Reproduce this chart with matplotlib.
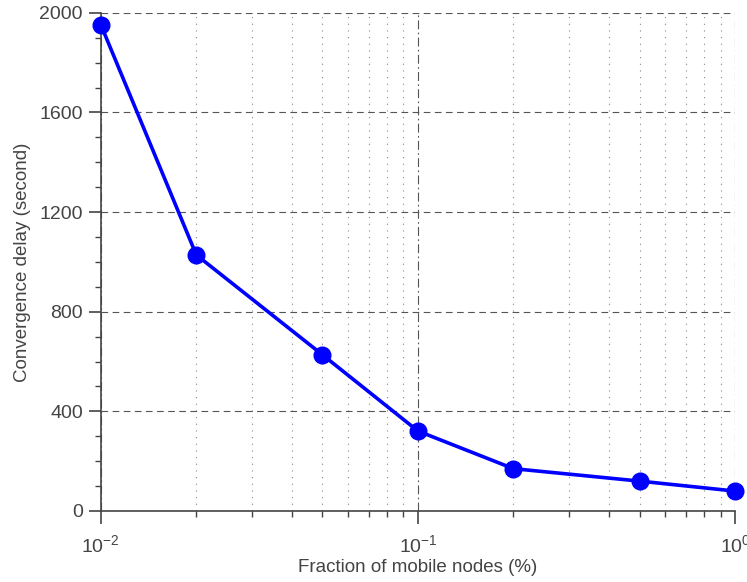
import matplotlib
matplotlib.use("Agg")
import matplotlib.pyplot as plt
from matplotlib.ticker import LogLocator, MultipleLocator

fraction = [0.01, 0.02, 0.05, 0.1, 0.2, 0.5, 1.0]
delay = [1952, 1028, 627, 321, 170, 120, 80]
y_ticks = [0, 400, 800, 1200, 1600, 2000]

plt.rcParams['font.family'] = ['Liberation Sans', 'DejaVu Sans']
txt = '#444444'

fig = plt.figure(figsize=(7.47, 5.82), dpi=100)
ax = fig.add_axes([0.135, 0.122, 0.984 - 0.135, 0.978 - 0.122])

ax.plot(fraction, delay, color='#0000ff', lw=2.6, marker='o', ms=12,
        clip_on=False, zorder=5)

ax.set_xscale('log')
ax.set_xlim(0.01, 1.0)
ax.set_ylim(0, 2000)
ax.set_yticks(y_ticks)
ax.yaxis.set_minor_locator(MultipleLocator(100))
ax.xaxis.set_minor_locator(LogLocator(base=10, subs=range(2, 10), numticks=20))

ax.grid(which='major', axis='y', color='#555555', ls=(0, (6, 4)), lw=0.8)
ax.grid(which='major', axis='x', color='#555555', ls=(0, (8, 3, 1.5, 3)), lw=0.8)
ax.grid(which='minor', axis='x', color='#888888', ls=(0, (1, 5)), lw=0.8)

for s in ['top', 'right']:
    ax.spines[s].set_visible(False)
for s in ['left', 'bottom']:
    ax.spines[s].set_color(txt)
    ax.spines[s].set_linewidth(1.2)

ax.tick_params(which='major', direction='out', length=9, width=1.2, color=txt,
               labelsize=14, labelcolor=txt)
ax.tick_params(axis='x', which='major', pad=8)
ax.tick_params(axis='y', which='major', pad=4)
ax.tick_params(which='minor', direction='out', length=4, width=1.0, color=txt)

ax.set_xlabel('Fraction of mobile nodes (%)', fontsize=13.5, color=txt, labelpad=2)
ax.set_ylabel('Convergence delay (second)', fontsize=13.5, color=txt, labelpad=6)

fig.savefig('out.png', dpi=100)
